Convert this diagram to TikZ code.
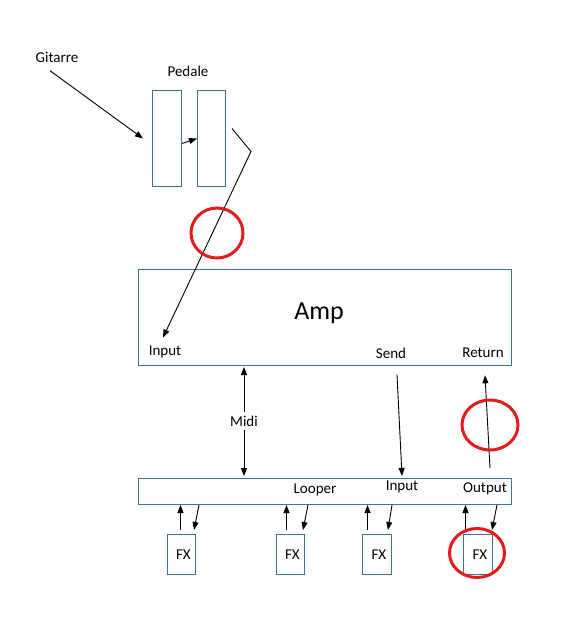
\documentclass[tikz,border=0pt]{standalone}
\usepackage{fontspec}
\setmainfont{Carlito}
\usetikzlibrary{positioning,calc,arrows.meta}
\definecolor{boxblue}{HTML}{41719C}
\definecolor{ringred}{HTML}{E31B1B}

\begin{document}
\begin{tikzpicture}[x=1pt, y=-1pt, >={Triangle[length=8pt, width=6pt]}, line width=0.9pt,
  box/.style={draw=boxblue, line width=1pt, inner sep=0, anchor=north west},
  lbl/.style={font=\fontsize{15}{17}\selectfont, inner sep=1pt},
  ring/.style={draw=ringred, line width=3pt}]

  \useasboundingbox (0,0) rectangle (567,630);

  % pedals
  \node[lbl] (gitarre) at (57,57) {Gitarre};
  \node[lbl] (pedale) at (188,71) {Pedale};
  \node[box, minimum width=29pt, minimum height=96pt] (ped1) at (152,90) {};
  \node[box, minimum width=28pt, minimum height=96pt] (ped2) at (197,90) {};

  % amp
  \node[box, minimum width=373pt, minimum height=96pt] (amp) at (138,269) {};
  \node[font=\fontsize{26}{28}\selectfont] (amptxt) at (319,313) {Amp};
  \node[lbl] (ampin) at (165,352) {Input};
  \node[lbl] (send) at (391,353) {Send};
  \node[lbl] (ret) at (483,353) {Return};

  % looper
  \node[box, minimum width=373pt, minimum height=26pt] (looper) at (138,478) {};
  \node[lbl] (loopname) at (315,490) {Looper};
  \node[lbl] (loopin) at (402,487) {Input};
  \node[lbl] (loopout) at (485,489) {Output};
  \node[lbl, inner sep=3pt] (midi) at (244,421) {Midi};

  % effects
  \node[box, minimum width=28pt, minimum height=40pt] (fx1) at (167,534) {};
  \node[box, minimum width=28pt, minimum height=40pt] (fx2) at (276,534) {};
  \node[box, minimum width=29pt, minimum height=40pt] (fx3) at (362,534) {};
  \node[box, minimum width=29pt, minimum height=40pt] (fx4) at (463,534) {};
  \node[lbl, xshift=2pt] at (fx1.center) {FX};
  \node[lbl, xshift=2pt] at (fx2.center) {FX};
  \node[lbl, xshift=2pt] at (fx3.center) {FX};
  \node[lbl, xshift=2pt] at (fx4.center) {FX};

  % signal path
  \draw[->] ([xshift=-7pt, yshift=-7pt]gitarre.south) -- ([xshift=-9pt]ped1.west);
  \draw[->] ([yshift=-5pt]ped1.east) -- (ped2.west);
  \draw[->] ([xshift=6pt, yshift=10pt]ped2.east) -- ++(19,23) -- ([xshift=-2pt, yshift=7pt]ampin.north);
  \draw[->] (midi.north) -- ([yshift=-1pt]midi.north |- amp.south);
  \draw[->] (midi.south) -- ([yshift=2pt]midi.south |- looper.north);
  \draw[->] ([xshift=6pt, yshift=-15pt]send.south) -- ([yshift=2pt]loopin.north |- looper.north);
  \draw[->] ([xshift=5pt, yshift=10pt]loopout.north |- looper.north) -- ([xshift=2pt, yshift=-16pt]ret.south);

  % effect loops
  \draw[->] ([xshift=-1pt, yshift=4pt]fx1.north) -- ([xshift=-1pt]fx1.north |- looper.south);
  \draw[->] ([xshift=3pt]fx1.north east |- looper.south) -- ([xshift=-2pt, yshift=4pt]fx1.north east);
  \draw[->] ([xshift=-4pt, yshift=4pt]fx2.north) -- ([xshift=-4pt]fx2.north |- looper.south);
  \draw[->] ([xshift=3pt]fx2.north east |- looper.south) -- ([xshift=-2pt, yshift=4pt]fx2.north east);
  \draw[->] ([xshift=-9.5pt, yshift=4pt]fx3.north) -- ([xshift=-9.5pt]fx3.north |- looper.south);
  \draw[->] ([xshift=0pt]fx3.north east |- looper.south) -- ([xshift=-4pt, yshift=4pt]fx3.north east);
  \draw[->] ([xshift=-12.5pt, yshift=4pt]fx4.north) -- ([xshift=-12.5pt]fx4.north |- looper.south);
  \draw[->] ([xshift=4pt]fx4.north east |- looper.south) -- ([xshift=-1pt, yshift=4pt]fx4.north east);

  % marks
  \draw[ring] (217,233) ellipse [x radius=26, y radius=25];
  \draw[ring] (490,425) ellipse [x radius=28, y radius=25];
  \draw[ring] (477,553) ellipse [x radius=27.5, y radius=24.5];
\end{tikzpicture}
\end{document}
